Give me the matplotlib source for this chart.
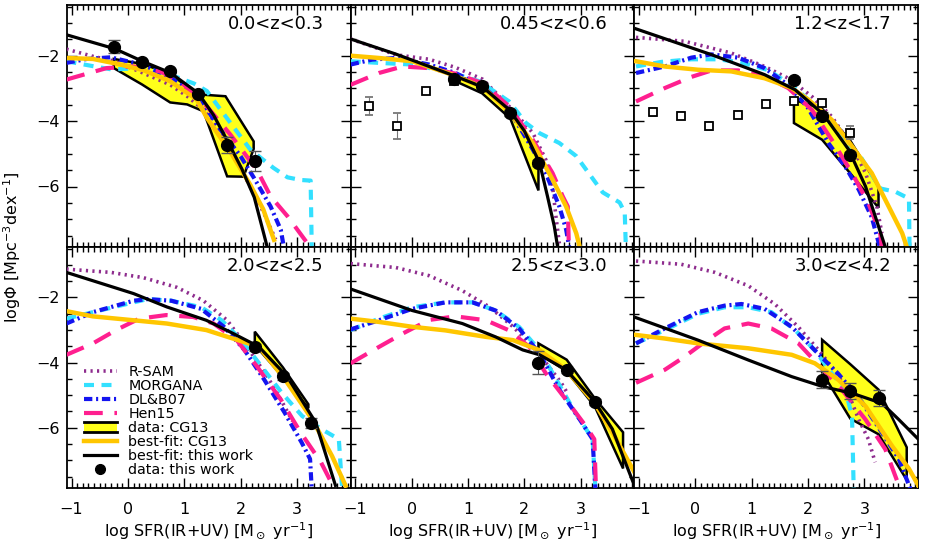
import numpy as np
import matplotlib
matplotlib.use('Agg')
import matplotlib.pyplot as plt
from matplotlib.patches import Polygon, Patch, Rectangle
from matplotlib.lines import Line2D
from matplotlib.legend_handler import HandlerBase
from matplotlib.ticker import MultipleLocator

# redshift bins (one panel each)
zbins = ['0.0<z<0.3', '0.45<z<0.6', '1.2<z<1.7', '2.0<z<2.5', '2.5<z<3.0', '3.0<z<4.2']

# R-SAM
rsam_x = [[-1.09, -0.62, -0.23, 0.27, 0.75, 1.05, 1.34, 1.64, 1.88, 2.17, 2.41, 2.62],
          [-1.08, -0.28, 0.31, 0.78, 1.26, 1.73, 2.15, 2.38, 2.50, 2.56, 2.62],
          [-1.05, -0.19, 0.64, 1.23, 1.65, 2.07, 2.42, 2.78, 3.02, 3.22, 3.31],
          [-1.09, -0.30, 0.27, 0.87, 1.34, 1.76, 2.11, 2.47, 2.71, 2.92],
          [-1.08, -0.28, 0.31, 0.90, 1.38, 1.80, 2.15, 2.38, 2.65, 2.75],
          [-1.05, -0.25, 0.35, 0.94, 1.41, 1.83, 2.19, 2.54, 2.75, 2.90, 3.07, 3.19]]
rsam_y = [[-1.80, -2.02, -2.17, -2.53, -2.89, -3.24, -3.65, -4.36, -5.08, -6.00, -6.81, -7.62],
          [-1.49, -1.97, -2.11, -2.36, -2.72, -3.55, -4.36, -5.18, -6.00, -6.92, -7.74],
          [-1.44, -1.56, -1.92, -2.33, -2.69, -3.25, -3.86, -4.77, -5.59, -6.61, -7.43],
          [-1.13, -1.23, -1.39, -1.69, -2.10, -2.70, -3.51, -4.42, -5.13, -5.80],
          [-0.96, -1.08, -1.33, -1.79, -2.29, -2.90, -3.51, -4.00, -4.61, -4.90],
          [-0.88, -0.98, -1.23, -1.64, -2.20, -2.91, -3.62, -4.40, -5.10, -5.75, -6.35, -7.06]]

# MORGANA
morg_x = [[-1.09, -0.62, -0.29, 0.27, 0.75, 1.17, 1.40, 1.82, 2.17, 2.58, 2.83, 3.06, 3.24, 3.26],
          [-1.08, -0.58, 0.01, 0.61, 1.20, 1.73, 2.03, 2.27, 2.62, 2.92, 3.39, 3.69, 3.78, 3.80],
          [-1.05, -0.60, -0.07, 0.41, 0.82, 1.29, 1.71, 2.18, 2.54, 2.95, 3.28, 3.55, 3.79, 3.80],
          [-1.09, -0.62, 0.10, 0.35, 0.77, 1.30, 1.66, 2.01, 2.37, 2.73, 3.09, 3.44, 3.74, 3.80],
          [-1.08, -0.58, 0.01, 0.60, 1.08, 1.49, 1.91, 2.27, 2.56, 2.89, 3.21, 3.26],
          [-1.05, -0.54, 0.05, 0.52, 0.94, 1.35, 1.77, 2.12, 2.42, 2.66, 2.78, 2.81]]
morg_y = [[-2.17, -2.32, -2.42, -2.38, -2.58, -2.85, -3.08, -4.06, -4.87, -5.43, -5.72, -5.80, -5.82, -7.90],
          [-2.17, -2.22, -2.27, -2.48, -2.78, -3.40, -4.06, -4.37, -4.67, -5.07, -6.18, -6.49, -6.80, -7.90],
          [-2.33, -2.19, -2.11, -2.11, -2.21, -2.44, -2.90, -3.61, -4.33, -5.14, -6.06, -6.16, -6.37, -7.90],
          [-2.65, -2.45, -2.15, -2.05, -2.10, -2.30, -2.70, -3.31, -4.12, -4.93, -5.64, -6.05, -6.35, -7.90],
          [-3.00, -2.65, -2.30, -2.15, -2.15, -2.40, -2.91, -3.62, -4.50, -5.50, -6.35, -7.90],
          [-3.41, -3.00, -2.50, -2.30, -2.30, -2.45, -3.00, -3.62, -4.33, -4.83, -5.64, -7.90]]

# DL&B07
dlb_x = [[-1.09, -0.73, -0.31, 0.27, 0.75, 1.25, 1.64, 2.00, 2.24, 2.53, 2.71, 2.77],
         [-1.08, -0.70, -0.28, 0.31, 0.78, 1.26, 1.73, 2.15, 2.38, 2.62, 2.74, 2.80],
         [-1.05, -0.54, -0.07, 0.29, 0.76, 1.23, 1.65, 2.00, 2.36, 2.66, 2.90, 3.13, 3.28],
         [-1.09, -0.62, 0.10, 0.35, 0.77, 1.30, 1.71, 2.07, 2.42, 2.78, 3.08, 3.23, 3.26],
         [-1.08, -0.58, 0.01, 0.60, 1.08, 1.49, 1.91, 2.27, 2.62, 2.98, 3.21, 3.26],
         [-1.05, -0.54, 0.05, 0.52, 0.82, 1.23, 1.71, 2.12, 2.54, 2.95, 3.31, 3.61, 3.82]]
dlb_y = [[-2.22, -2.10, -2.05, -2.28, -2.67, -3.25, -4.26, -5.08, -5.75, -6.61, -7.32, -7.90],
         [-2.27, -2.12, -2.07, -2.27, -2.53, -2.94, -3.65, -4.87, -5.59, -6.61, -7.31, -7.90],
         [-2.53, -2.33, -2.06, -1.96, -2.06, -2.38, -2.90, -3.60, -4.67, -5.39, -6.10, -6.94, -7.90],
         [-2.80, -2.45, -2.10, -2.05, -2.10, -2.35, -2.91, -3.62, -4.53, -5.54, -6.45, -6.96, -7.90],
         [-2.98, -2.70, -2.35, -2.15, -2.15, -2.40, -2.96, -3.72, -4.83, -5.74, -6.35, -7.90],
         [-3.41, -2.95, -2.45, -2.25, -2.20, -2.35, -2.90, -3.62, -4.35, -5.20, -6.15, -6.96, -7.90]]

# Hen15
hen_x = [[-1.09, -0.38, 0.10, 0.57, 0.93, 1.40, 1.82, 2.29, 2.53, 2.83, 3.18],
         [-1.08, -0.58, -0.16, 0.31, 0.78, 1.26, 1.73, 2.15, 2.50, 2.68, 2.77, 2.79],
         [-1.05, -0.54, -0.07, 0.29, 0.76, 1.23, 1.65, 2.07, 2.42, 2.78, 3.07, 3.28, 3.31],
         [-1.09, -0.62, -0.21, 0.20, 0.68, 1.16, 1.52, 1.93, 2.29, 2.71, 3.06, 3.42, 3.63],
         [-1.08, -0.58, -0.16, 0.31, 0.78, 1.32, 1.73, 2.09, 2.38, 2.74, 3.09, 3.24, 3.27],
         [-1.05, -0.54, -0.19, 0.17, 0.52, 0.94, 1.35, 1.83, 2.24, 2.60, 3.02, 3.37, 3.61]]
hen_y = [[-2.73, -2.38, -2.33, -2.48, -2.79, -3.55, -4.42, -5.50, -6.30, -6.91, -7.73],
         [-2.89, -2.53, -2.33, -2.38, -2.55, -2.84, -3.55, -4.57, -5.59, -6.30, -6.61, -7.90],
         [-3.40, -2.99, -2.65, -2.45, -2.45, -2.63, -2.99, -3.66, -4.57, -5.59, -6.51, -7.43, -7.90],
         [-3.76, -3.41, -3.00, -2.65, -2.54, -2.60, -2.80, -3.31, -4.12, -5.13, -6.14, -7.05, -7.76],
         [-4.02, -3.52, -3.11, -2.69, -2.58, -2.70, -3.01, -3.52, -4.33, -5.14, -5.95, -6.35, -7.90],
         [-4.62, -4.22, -3.82, -3.36, -2.95, -2.80, -2.95, -3.41, -4.17, -4.83, -5.75, -6.66, -7.77]]

# best-fit: CG13
cgfit_x = [[-1.09, -0.62, -0.21, 0.27, 0.75, 1.22, 1.40, 1.82, 2.17, 2.40, 2.59],
           [-1.08, -0.58, 0.01, 0.72, 1.26, 1.73, 2.15, 2.50, 2.74, 2.92, 2.98],
           [-1.05, -0.54, 0.05, 0.64, 1.23, 1.71, 2.01, 2.42, 2.78, 3.13, 3.43, 3.67, 3.76],
           [-1.09, -0.62, 0.10, 0.69, 1.39, 1.86, 2.32, 2.79, 3.27, 3.62, 3.86],
           [-1.08, -0.58, 0.01, 0.60, 1.32, 1.80, 2.27, 2.74, 3.24, 3.56, 3.95],
           [-1.05, -0.54, 0.05, 0.94, 1.71, 2.12, 2.54, 3.02, 3.49, 3.79, 3.97]]
cgfit_y = [[-2.07, -2.10, -2.24, -2.44, -2.78, -3.34, -3.90, -4.95, -5.95, -6.70, -7.63],
           [-2.00, -2.07, -2.17, -2.58, -2.96, -3.70, -4.67, -5.79, -6.61, -7.43, -7.84],
           [-2.17, -2.33, -2.43, -2.48, -2.69, -2.99, -3.35, -3.96, -4.77, -5.59, -6.61, -7.43, -7.89],
           [-2.42, -2.58, -2.70, -2.80, -3.00, -3.26, -3.51, -4.53, -5.75, -6.87, -7.78],
           [-2.65, -2.75, -2.90, -3.01, -3.21, -3.31, -3.62, -4.22, -5.23, -6.14, -7.36],
           [-3.15, -3.26, -3.41, -3.56, -3.76, -4.02, -4.53, -5.34, -6.56, -7.26, -7.82]]

# best-fit: this work
fit_x = [[-1.09, -0.23, 0.27, 0.75, 1.25, 1.52, 1.76, 2.02, 2.24, 2.41, 2.47],
         [-1.08, -0.28, 0.78, 1.26, 1.73, 2.00, 2.27, 2.41, 2.53, 2.59],
         [-1.05, 0.29, 1.23, 1.77, 2.27, 2.72, 3.02, 3.25, 3.37],
         [-1.09, 0.10, 0.69, 1.39, 1.86, 2.32, 2.82, 3.33, 3.68],
         [-1.08, 0.01, 0.90, 1.49, 1.97, 2.27, 2.74, 3.24, 3.56, 3.95],
         [-1.05, 0.05, 0.94, 1.71, 2.27, 2.78, 3.31, 3.61, 3.99]]
fit_y = [[-1.36, -1.79, -2.18, -2.52, -3.15, -3.82, -4.59, -5.46, -6.33, -7.45, -7.85],
         [-1.49, -1.95, -2.63, -2.96, -3.65, -4.30, -5.28, -6.30, -7.21, -7.85],
         [-1.18, -1.97, -2.58, -3.04, -3.79, -4.87, -6.00, -7.22, -7.85],
         [-1.23, -1.88, -2.29, -2.70, -3.10, -3.51, -4.42, -5.84, -7.77],
         [-1.74, -2.40, -2.80, -3.21, -3.61, -3.76, -4.22, -5.18, -6.04, -7.77],
         [-2.62, -3.31, -3.92, -4.43, -4.74, -4.94, -5.25, -5.75, -6.41]]

# data: CG13 (upper and lower edges of the band)
cg_up_x = [[-0.25, 0.25, 0.75, 1.05, 1.31, 1.73, 2.23],
           [0.70, 1.25, 1.75, 2.25],
           [1.75, 2.25, 2.75, 3.25],
           [2.25, 2.75, 3.20],
           [2.25, 2.75, 3.25, 3.75],
           [2.25, 2.75, 3.25, 3.75]]
cg_up_y = [[-2.10, -2.25, -2.55, -2.95, -3.19, -3.24, -4.62],
           [-2.55, -2.88, -3.68, -5.00],
           [-3.35, -3.62, -4.60, -6.00],
           [-3.05, -4.15, -5.28],
           [-3.41, -3.91, -5.10, -6.14],
           [-3.30, -4.05, -4.83, -6.60]]
cg_lo_x = [[-0.25, 0.25, 0.75, 1.05, 1.34, 1.76, 2.05, 2.23],
           [0.70, 1.25, 1.75, 2.25],
           [1.75, 2.25, 2.75, 3.25],
           [2.25, 2.75, 3.20],
           [2.25, 2.75, 3.25, 3.75],
           [2.25, 2.75, 3.25, 3.75]]
cg_lo_y = [[-2.38, -2.88, -3.43, -3.49, -3.70, -5.69, -5.70, -4.85],
           [-2.72, -3.15, -3.92, -6.12],
           [-4.06, -4.57, -5.60, -6.65],
           [-3.45, -4.45, -5.40],
           [-3.71, -4.27, -5.35, -7.25],
           [-4.30, -5.72, -6.20, -7.60]]

# data: this work
obs_x = [[-0.25, 0.25, 0.75, 1.25, 1.75, 2.25],
         [0.75, 1.25, 1.75, 2.25],
         [1.75, 2.25, 2.75],
         [2.25, 2.75, 3.25],
         [2.25, 2.75, 3.25],
         [2.25, 2.75, 3.25]]
obs_y = [[-1.73, -2.19, -2.48, -3.17, -4.73, -5.22],
         [-2.70, -2.92, -3.75, -5.28],
         [-2.73, -3.83, -5.03],
         [-3.53, -4.42, -5.86],
         [-4.00, -4.22, -5.21],
         [-4.52, -4.88, -5.08]]
obs_err = [[0.20, 0.06, 0.06, 0.06, 0.25, 0.30],
           [0.08, 0.08, 0.10, 0.10],
           [0.08, 0.10, 0.10],
           [0.10, 0.10, 0.15],
           [0.35, 0.10, 0.10],
           [0.25, 0.25, 0.25]]

# open squares (IR-only selection)
sq_x = [[], [-0.75, -0.25, 0.25, 0.75],
        [-0.75, -0.25, 0.25, 0.75, 1.25, 1.75, 2.25, 2.75], [], [], []]
sq_y = [[], [-3.53, -4.14, -3.09, -2.78],
        [-3.73, -3.83, -4.14, -3.80, -3.47, -3.40, -3.45, -4.36], [], [], []]
sq_err = [[], [0.27, 0.40, 0.08, 0.08],
          [0.12, 0.12, 0.12, 0.12, 0.06, 0.06, 0.06, 0.20], [], [], []]

c_rsam = '#8E2C8E'
c_morg = '#33E0FF'
c_dlb = '#1414F0'
c_hen = '#FF1F8F'
c_cgfit = '#FFC600'
c_band = '#FFFF1A'


class HandlerBand(HandlerBase):
    # yellow box with black lines on top and bottom
    def create_artists(self, legend, orig_handle, xdescent, ydescent,
                       width, height, fontsize, trans):
        x0, y0 = -xdescent, -ydescent
        rect = Rectangle((x0, y0), width, height, facecolor=c_band,
                         edgecolor='none', transform=trans)
        top = Line2D([x0, x0 + width], [y0 + height, y0 + height], color='k', lw=2, transform=trans)
        bot = Line2D([x0, x0 + width], [y0, y0], color='k', lw=2, transform=trans)
        return [rect, top, bot]


W, H = 927, 545
fig = plt.figure(figsize=(W / 100, H / 100), dpi=100)

left, right = 67, 918
pw = (right - left) / 3
rows = [(5, 247), (247, 488)]

for i in range(6):
    r, c = divmod(i, 3)
    top_px, bot_px = rows[r]
    ax = fig.add_axes([(left + c * pw) / W, 1 - bot_px / H, pw / W, (bot_px - top_px) / H])

    poly = np.column_stack([np.r_[cg_up_x[i], cg_lo_x[i][::-1]],
                            np.r_[cg_up_y[i], cg_lo_y[i][::-1]]])
    ax.add_patch(Polygon(poly, closed=True, facecolor=c_band, edgecolor='k', lw=1.8, zorder=2))

    ax.plot(rsam_x[i], rsam_y[i], color=c_rsam, lw=2.6, ls=(0, (0.6, 1.2)), zorder=3)
    ax.plot(morg_x[i], morg_y[i], color=c_morg, lw=3, ls=(0, (2.4, 1.8)), zorder=3)
    ax.plot(dlb_x[i], dlb_y[i], color=c_dlb, lw=3, ls=(0, (2.0, 0.9, 0.5, 0.9)), zorder=3)
    ax.plot(hen_x[i], hen_y[i], color=c_hen, lw=3, ls=(0, (4.5, 2.8)), zorder=3)
    ax.plot(cgfit_x[i], cgfit_y[i], color=c_cgfit, lw=3.2, zorder=3)
    ax.plot(fit_x[i], fit_y[i], color='k', lw=2.3, zorder=4)

    if sq_x[i]:
        ax.errorbar(sq_x[i], sq_y[i], yerr=sq_err[i], fmt='s', ms=6, mfc='white', mec='k',
                    mew=1.3, ecolor='#777777', elinewidth=0.8, capsize=3, zorder=5)
    ax.errorbar(obs_x[i], obs_y[i], yerr=obs_err[i], fmt='o', ms=8.5, color='k',
                ecolor='#555555', elinewidth=0.8, capsize=4, zorder=6)

    ax.set_xlim(-1.08, 3.95)
    ax.set_ylim(-7.85, -0.45)
    ax.xaxis.set_major_locator(MultipleLocator(1))
    ax.xaxis.set_minor_locator(MultipleLocator(0.1))
    ax.yaxis.set_major_locator(MultipleLocator(2))
    ax.yaxis.set_minor_locator(MultipleLocator(0.5))
    ax.set_xticks([-1, 0, 1, 2, 3])
    ax.set_yticks([-2, -4, -6])
    ax.tick_params(which='both', direction='in', top=True, right=True, width=1)
    ax.tick_params(which='major', length=7)
    ax.tick_params(which='minor', length=3.5)
    ax.tick_params(axis='x', labelsize=11.5, pad=10)
    ax.tick_params(axis='y', labelsize=11.5, pad=5)
    for s in ax.spines.values():
        s.set_linewidth(1.3)

    if r == 0:
        ax.set_xticklabels([])
    else:
        ax.set_xlabel(r'log SFR(IR+UV) [M$_\odot$ yr$^{-1}$]', fontsize=11.5, labelpad=3)
    if c != 0:
        ax.set_yticklabels([])

    ax.text(0.905, 0.92, zbins[i], transform=ax.transAxes, ha='right', va='center', fontsize=13)

    if i == 3:
        handles = [Line2D([], [], color=c_rsam, lw=2.6, ls=(0, (0.6, 1.2))),
                   Line2D([], [], color=c_morg, lw=3, ls=(0, (2.4, 1.8))),
                   Line2D([], [], color=c_dlb, lw=3, ls=(0, (2.0, 0.9, 0.5, 0.9))),
                   Line2D([], [], color=c_hen, lw=3, ls=(0, (4.5, 2.8))),
                   Patch(facecolor=c_band),
                   Line2D([], [], color=c_cgfit, lw=3.2),
                   Line2D([], [], color='k', lw=2.3),
                   Line2D([], [], color='k', marker='o', ms=7, ls='none')]
        labels = ['R-SAM', 'MORGANA', 'DL&B07', 'Hen15', 'data: CG13',
                  'best-fit: CG13', 'best-fit: this work', 'data: this work']
        ax.legend(handles, labels, loc='lower left', bbox_to_anchor=(0.06, 0.045),
                  frameon=False, fontsize=10.3, labelspacing=0.0, handlelength=2.3,
                  handletextpad=0.8, borderpad=0, borderaxespad=0,
                  handler_map={Patch: HandlerBand()})

fig.text(12 / W, 1 - 247 / H, r'log$\Phi$ [Mpc$^{-3}$dex$^{-1}$]', rotation=90,
         ha='center', va='center', fontsize=11.5)

fig.savefig('out.png', dpi=100)
